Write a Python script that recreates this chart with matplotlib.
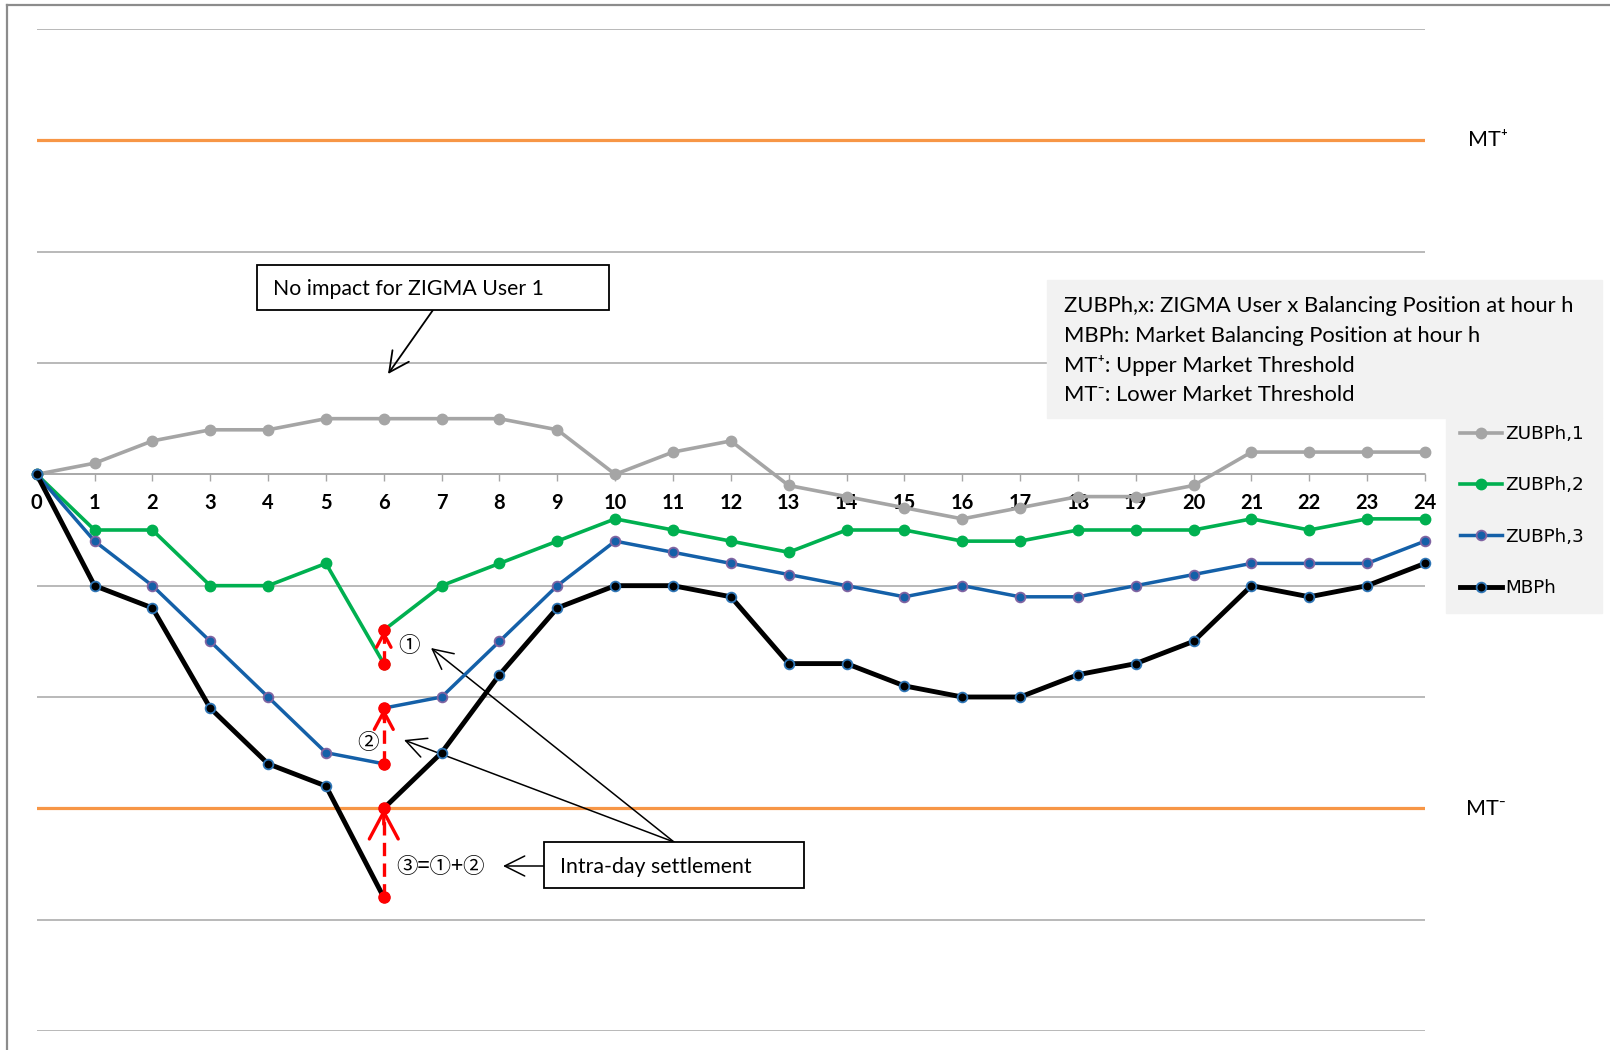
"""Intra-day settlement of ZIGMA user balancing positions."""

import matplotlib.pyplot as plt
from matplotlib.lines import Line2D
from matplotlib.patches import Rectangle


HOURS = list(range(25))
ZUBP_1 = [0, 1, 3, 4, 4, 5, 5, 5, 5, 4, 0, 2, 3, -1, -2, -3, -4, -3, -2, -2, -1, 2, 2, 2, 2]
ZUBP_2 = [0, -5, -5, -10, -10, -8, -17, -10, -8, -6, -4, -5, -6, -7, -5, -5, -6, -6, -5, -5, -5, -4, -5, -4, -4]
ZUBP_3 = [0, -6, -10, -15, -20, -25, -26, -20, -15, -10, -6, -7, -8, -9, -10, -11, -10, -11, -11, -10, -9, -8, -8, -8, -6]
MBP = [0, -10, -12, -21, -26, -28, -38, -25, -18, -12, -10, -10, -11, -17, -17, -19, -20, -20, -18, -17, -15, -10, -11, -10, -8]
SETTLE_HOUR = 6
ZUBP_2_SETTLED = -14
ZUBP_3_SETTLED = -21
MBP_SETTLED = -30
MT_UPPER = 30
MT_LOWER = -30
DEFINITIONS = [
    "ZUBPh,x: ZIGMA User x Balancing Position at hour h",
    "MBPh: Market Balancing Position at hour h",
    "MT\u207a: Upper Market Threshold",
    "MT\u207b: Lower Market Threshold",
]

W, H = 1610, 1050
GRAY = "#A5A5A5"
GREEN = "#00B050"
BLUE = "#1460A8"
PURPLE = "#8064A2"
EDGE_BLUE = "#2E75B6"
ORANGE = "#F79646"
RED = "#FF0000"
GRID = "#A6A6A6"
PANEL = "#F2F2F2"
CJK = ["Noto Sans CJK JP", "DejaVu Sans"]


def fx(px):
    return px / W


def fy(py):
    return 1 - py / H


def plot_series(ax, values, settled, label, **style):
    h = SETTLE_HOUR
    if settled is None:
        return ax.plot(HOURS, values, label=label, clip_on=False, **style)[0]
    line = ax.plot(HOURS[: h + 1], values[: h + 1], label=label, clip_on=False, **style)[0]
    ax.plot(HOURS[h:], [settled] + values[h + 1:], clip_on=False, **style)
    return line


def settlement_arrow(ax, before, after, scale):
    h = SETTLE_HOUR
    ax.plot([h, h], [before, after], color=RED, lw=2.4, dashes=(4, 2.2), zorder=6)
    ax.annotate(
        "",
        xy=(h, after),
        xytext=(h, after - scale * 0.055),
        arrowprops=dict(
            arrowstyle="->,head_length=0.75,head_width=0.4",
            color=RED,
            lw=2.4,
            shrinkA=0,
            shrinkB=0,
            mutation_scale=scale,
        ),
        zorder=6,
    )
    ax.plot([h, h], [before, after], "o", color=RED, ms=8, zorder=7)


def main():
    plt.rcParams["font.family"] = ["Lato", "DejaVu Sans"]
    fig = plt.figure(figsize=(W / 100, H / 100), dpi=100)
    ax = fig.add_axes([fx(36.7), fy(1031), fx(1425) - fx(36.7), fy(29) - fy(1031)])

    ax.set_xlim(0, 24)
    ax.set_ylim(-50, 40)
    ax.set_yticks(range(-50, 41, 10))
    ax.set_xticks(HOURS)
    ax.grid(axis="y", color=GRID, lw=1.1)
    ax.set_axisbelow(True)
    for side in ("top", "right", "left"):
        ax.spines[side].set_visible(False)
    ax.spines["bottom"].set_position(("data", 0))
    ax.spines["bottom"].set_color(GRID)
    ax.spines["bottom"].set_linewidth(1.1)
    ax.tick_params(axis="y", left=False, labelleft=False)
    ax.tick_params(axis="x", length=5, width=1, color=GRID, pad=8.5, labelsize=14.5)
    for label in ax.get_xticklabels():
        label.set_fontweight("bold")

    ax.axhline(MT_UPPER, color=ORANGE, lw=2.3, zorder=1)
    ax.axhline(MT_LOWER, color=ORANGE, lw=2.3, zorder=1)

    handles = [
        plot_series(ax, ZUBP_1, None, "ZUBPh,1", color=GRAY, lw=2.6,
                    marker="o", ms=7.5, zorder=3),
        plot_series(ax, ZUBP_2, ZUBP_2_SETTLED, "ZUBPh,2", color=GREEN, lw=2.6,
                    marker="o", ms=7.5, zorder=3),
        plot_series(ax, ZUBP_3, ZUBP_3_SETTLED, "ZUBPh,3", color=BLUE, lw=2.5,
                    marker="o", ms=7, mfc=BLUE, mec=PURPLE, mew=1.3, zorder=4),
        plot_series(ax, MBP, MBP_SETTLED, "MBPh", color="black", lw=3.5,
                    marker="o", ms=7, mfc="black", mec=EDGE_BLUE, mew=1.3, zorder=5),
    ]

    settlement_arrow(ax, ZUBP_2[SETTLE_HOUR], ZUBP_2_SETTLED, 13)
    settlement_arrow(ax, ZUBP_3[SETTLE_HOUR], ZUBP_3_SETTLED, 17)
    settlement_arrow(ax, MBP[SETTLE_HOUR], MBP_SETTLED, 26)

    # threshold labels
    fig.text(fx(1468), fy(140), "MT\u207a", fontsize=15.5, va="center")
    fig.text(fx(1466), fy(809), "MT\u207b", fontsize=15.5, va="center")

    # definitions panel and legend background
    fig.patches.append(Rectangle((fx(1047), fy(418)), fx(1602) - fx(1047), fy(280) - fy(418),
                                 transform=fig.transFigure, color=PANEL, zorder=1))
    fig.patches.append(Rectangle((fx(1446), fy(613)), fx(1602) - fx(1446), fy(418) - fy(613),
                                 transform=fig.transFigure, color=PANEL, zorder=1))
    for i, line in enumerate(DEFINITIONS):
        fig.text(fx(1064), fy(306 + i * 29.8), line, fontsize=15.8, va="center", zorder=2)

    fig.legend(
        handles=handles,
        loc="upper left",
        bbox_to_anchor=(fx(1460), fy(425)),
        frameon=False,
        borderaxespad=0,
        borderpad=0,
        numpoints=1,
        handlelength=2.3,
        handletextpad=0.15,
        labelspacing=1.82,
        prop={"family": "DejaVu Sans", "size": 13.2},
    )

    # "No impact" callout
    fig.patches.append(Rectangle((fx(257), fy(310)), fx(609) - fx(257), fy(265) - fy(310),
                                 transform=fig.transFigure, fc="white", ec="black", lw=1.3, zorder=3))
    fig.text(fx(273), fy(289), "No impact for ZIGMA User 1", fontsize=15.3, va="center", zorder=4)
    ax.annotate("", xy=(388, H - 374), xycoords="figure pixels",
                xytext=(433, H - 310), textcoords="figure pixels",
                arrowprops=dict(arrowstyle="->,head_length=0.8,head_width=0.4", color="black",
                                lw=1.3, shrinkA=0, shrinkB=0, mutation_scale=18))

    # "Intra-day settlement" callout
    fig.patches.append(Rectangle((fx(544), fy(888)), fx(804) - fx(544), fy(842) - fy(888),
                                 transform=fig.transFigure, fc="white", ec="black", lw=1.3, zorder=3))
    fig.text(fx(560), fy(867), "Intra-day settlement", fontsize=15.3, va="center", zorder=4)
    for tip in [(431, 648), (404, 740), (503, 866)]:
        start = (674, 842) if tip[0] < 500 else (544, 866)
        ax.annotate("", xy=(tip[0], H - tip[1]), xycoords="figure pixels",
                    xytext=(start[0], H - start[1]), textcoords="figure pixels",
                    arrowprops=dict(arrowstyle="->,head_length=0.8,head_width=0.4", color="black",
                                    lw=1.1, shrinkA=0, shrinkB=0, mutation_scale=18))

    fig.text(fx(409), fy(646), "\u2460", fontsize=15.5, family=CJK, ha="center", va="center")
    fig.text(fx(368), fy(743), "\u2461", fontsize=15.5, family=CJK, ha="center", va="center")
    fig.text(fx(396), fy(867), "\u2462=\u2460+\u2461", fontsize=15.5, family=CJK, va="center")

    # chart frame
    fig.add_artist(Line2D([fx(7), fx(7)], [0, fy(5)], transform=fig.transFigure,
                          color="#8C8C8C", lw=1.6))
    fig.add_artist(Line2D([fx(7), 1], [fy(5), fy(5)], transform=fig.transFigure,
                          color="#8C8C8C", lw=1.6))

    fig.savefig("out.png", dpi=100)
    plt.close(fig)


if __name__ == "__main__":
    main()
